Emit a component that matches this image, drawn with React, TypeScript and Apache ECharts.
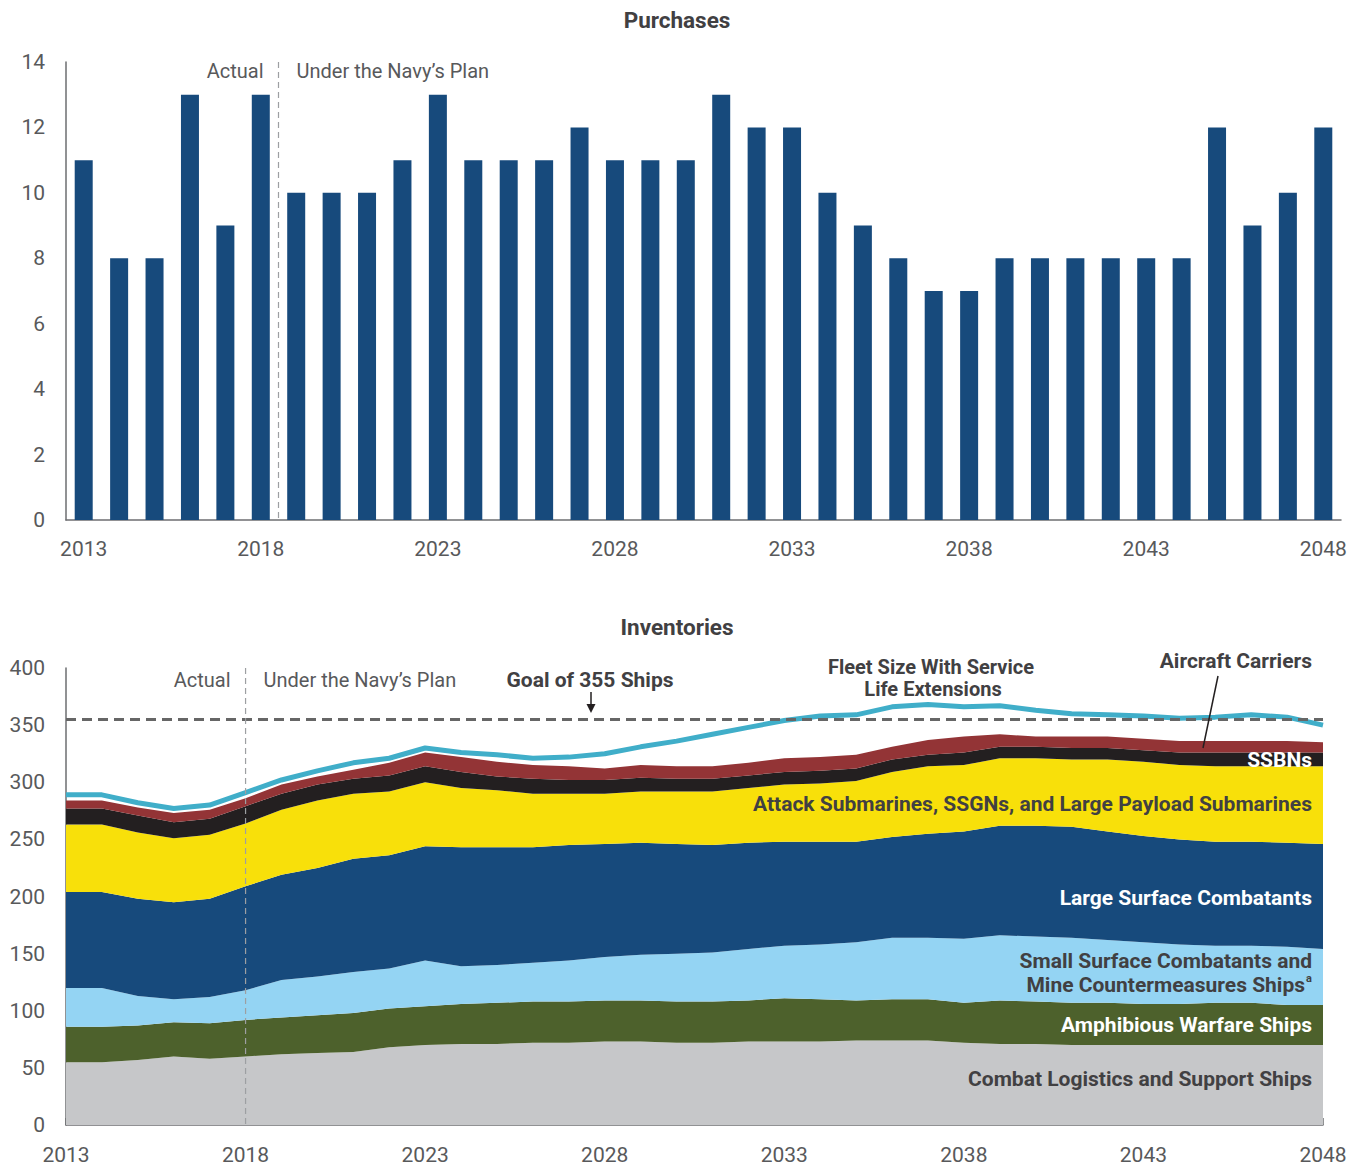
import React, { useEffect, useRef } from "react";
import * as echarts from "echarts";

// ---------- DATA ----------
const years: string[] = [
  "2013", "2014", "2015", "2016", "2017", "2018", "2019", "2020", "2021", "2022",
  "2023", "2024", "2025", "2026", "2027", "2028", "2029", "2030", "2031", "2032",
  "2033", "2034", "2035", "2036", "2037", "2038", "2039", "2040", "2041", "2042",
  "2043", "2044", "2045", "2046", "2047", "2048",
];

// Purchases (ships per year)
const purchases: number[] = [
  11, 8, 8, 13, 9, 13, 10, 10, 10, 11,
  13, 11, 11, 11, 12, 11, 11, 11, 13, 12,
  12, 10, 9, 8, 7, 7, 8, 8, 8, 8,
  8, 8, 12, 9, 10, 12,
];

// Inventories by category (stacked, bottom to top)
const combatLogistics: number[] = [
  55, 55, 57, 60, 58, 60, 62, 63, 64, 68,
  70, 71, 71, 72, 72, 73, 73, 72, 72, 73,
  73, 73, 74, 74, 74, 72, 71, 71, 70, 70,
  70, 70, 70, 70, 70, 70,
];
const amphibious: number[] = [
  31, 31, 30, 30, 31, 32, 32, 33, 34, 34,
  34, 35, 36, 36, 36, 36, 36, 36, 36, 36,
  38, 37, 35, 36, 36, 35, 38, 37, 37, 37,
  36, 36, 37, 37, 35, 35,
];
const smallSurface: number[] = [
  34, 34, 26, 20, 23, 26, 33, 34, 36, 35,
  40, 33, 33, 34, 36, 38, 40, 42, 43, 45,
  46, 48, 51, 54, 54, 56, 57, 57, 57, 55,
  54, 52, 50, 50, 51, 49,
];
const largeSurface: number[] = [
  84, 84, 85, 85, 86, 91, 92, 95, 99, 99,
  100, 104, 103, 101, 101, 99, 98, 96, 94, 93,
  91, 90, 88, 88, 91, 94, 96, 97, 97, 95,
  93, 92, 91, 91, 91, 92,
];
const attackSubs: number[] = [
  59, 59, 58, 56, 56, 55, 57, 59, 57, 56,
  56, 52, 50, 47, 45, 44, 45, 46, 47, 48,
  50, 51, 53, 57, 59, 58, 59, 59, 59, 63,
  65, 65, 66, 66, 67, 68,
];
const ssbns: number[] = [
  14, 14, 15, 14, 14, 15, 14, 14, 13, 14,
  14, 14, 12, 13, 12, 12, 12, 11, 11, 11,
  11, 11, 11, 11, 10, 11, 10, 10, 10, 10,
  10, 11, 12, 12, 12, 12,
];
const carriers: number[] = [
  7, 7, 7, 8, 8, 7, 8, 7, 8, 11,
  12, 13, 13, 12, 12, 10, 11, 11, 11, 11,
  12, 12, 12, 11, 13, 14, 11, 9, 10, 10,
  10, 10, 10, 10, 10, 9,
];
// Fleet size with service life extensions (line)
const fleetWithSLE: number[] = [
  289, 289, 282, 277, 280, 291, 302, 310, 317, 321,
  330, 326, 324, 321, 322, 325, 331, 336, 342, 348,
  354, 358, 359, 366, 368, 366, 367, 363, 360, 359,
  358, 356, 357, 359, 357, 350,
];
const goalShips = 355;

const purchaseTicks = { min: 0, max: 14, interval: 2 };
const inventoryTicks = { min: 0, max: 400, interval: 50 };

// ---------- STYLE ----------
const FONT = "Roboto, 'Noto Sans', sans-serif";
const TICK_COLOR = "#58595B";
const LABEL_DARK = "#414042";
const AXIS_COLOR = "#6D6E71";

const C = {
  navy: "#174A7C",
  grey: "#C6C7C9",
  green: "#4D612C",
  light: "#94D4F3",
  yellow: "#F8E00A",
  black: "#231F20",
  red: "#933436",
  cyan: "#40AEC9",
};

const G1 = { left: 66, top: 62, width: 1275, height: 458 };
const G2 = { left: 66, top: 668, width: 1257, height: 457 };

function txt(
  text: string,
  x: number,
  y: number,
  align: string,
  font: string,
  fill: string
) {
  return {
    type: "text",
    x,
    y,
    z: 100,
    silent: true,
    style: {
      text,
      fill,
      font,
      textAlign: align,
      textVerticalAlign: "middle",
    },
  };
}

export default function App() {
  const ref = useRef<HTMLDivElement | null>(null);

  useEffect(() => {
    if (!ref.current) return;
    const chart = echarts.init(ref.current, undefined, { renderer: "svg" });

    const band1 = G1.width / years.length;
    const splitX1 = G1.left + band1 * 6; // boundary between 2018 and 2019
    const step2 = G2.width / (years.length - 1);
    const x2018 = G2.left + step2 * 5;

    const regular = `20px ${FONT}`;
    const bold = `bold 21px ${FONT}`;
    const boldSmall = `bold 20px ${FONT}`;

    const areaSeries = (name: string, data: number[], color: string) => ({
      name,
      type: "line",
      stack: "inv",
      xAxisIndex: 1,
      yAxisIndex: 1,
      data,
      symbol: "none",
      smooth: false,
      lineStyle: { width: 0, color },
      itemStyle: { color },
      areaStyle: { color, opacity: 1 },
      z: 2,
    });

    const axisLabelBase = {
      color: TICK_COLOR,
      fontSize: 21,
      fontFamily: FONT,
    };

    chart.setOption({
      animation: false,
      backgroundColor: "#ffffff",
      grid: [
        { ...G1, containLabel: false },
        { ...G2, containLabel: false },
      ],
      xAxis: [
        {
          type: "category",
          gridIndex: 0,
          data: years,
          boundaryGap: true,
          axisLine: { lineStyle: { color: AXIS_COLOR, width: 1.5 } },
          axisTick: { show: false },
          axisLabel: { ...axisLabelBase, interval: 4, margin: 18 },
          splitLine: { show: false },
        },
        {
          type: "category",
          gridIndex: 1,
          data: years,
          boundaryGap: false,
          axisLine: { lineStyle: { color: AXIS_COLOR, width: 1.5 } },
          axisTick: {
            show: true,
            inside: true,
            interval: 4,
            length: 7,
            lineStyle: { color: AXIS_COLOR, width: 1.5 },
          },
          axisLabel: { ...axisLabelBase, interval: 4, margin: 19 },
          splitLine: { show: false },
        },
      ],
      yAxis: [
        {
          type: "value",
          gridIndex: 0,
          ...purchaseTicks,
          axisLine: { show: true, lineStyle: { color: AXIS_COLOR, width: 1.5 } },
          axisTick: { show: false },
          axisLabel: { ...axisLabelBase, margin: 21 },
          splitLine: { show: false },
        },
        {
          type: "value",
          gridIndex: 1,
          ...inventoryTicks,
          axisLine: { show: true, lineStyle: { color: AXIS_COLOR, width: 1.5 } },
          axisTick: { show: false },
          axisLabel: { ...axisLabelBase, margin: 21 },
          splitLine: { show: false },
        },
      ],
      series: [
        {
          name: "Purchases",
          type: "bar",
          xAxisIndex: 0,
          yAxisIndex: 0,
          data: purchases,
          barWidth: 18,
          itemStyle: { color: C.navy },
        },
        areaSeries("Combat Logistics and Support Ships", combatLogistics, C.grey),
        areaSeries("Amphibious Warfare Ships", amphibious, C.green),
        areaSeries("Small Surface Combatants and Mine Countermeasures Ships", smallSurface, C.light),
        areaSeries("Large Surface Combatants", largeSurface, C.navy),
        areaSeries("Attack Submarines, SSGNs, and Large Payload Submarines", attackSubs, C.yellow),
        areaSeries("SSBNs", ssbns, C.black),
        areaSeries("Aircraft Carriers", carriers, C.red),
        {
          name: "Fleet Size With Service Life Extensions",
          type: "line",
          xAxisIndex: 1,
          yAxisIndex: 1,
          data: fleetWithSLE,
          symbol: "none",
          lineStyle: { width: 5, color: C.cyan },
          itemStyle: { color: C.cyan },
          z: 4,
        },
        {
          name: "Goal of 355 Ships",
          type: "line",
          xAxisIndex: 1,
          yAxisIndex: 1,
          data: years.map(() => goalShips),
          symbol: "none",
          lineStyle: { width: 3, color: "#666666", type: [10, 6] },
          itemStyle: { color: "#666666" },
          z: 6,
        },
      ],
      graphic: [
        // titles
        txt("Purchases", 677, 20, "center", `bold 22.5px ${FONT}`, LABEL_DARK),
        txt("Inventories", 677, 627, "center", `bold 22.5px ${FONT}`, LABEL_DARK),
        // top chart divider
        {
          type: "line",
          z: 50,
          silent: true,
          shape: { x1: splitX1, y1: G1.top, x2: splitX1, y2: G1.top + G1.height },
          style: { stroke: "#9D9FA2", lineWidth: 1.2, lineDash: [6, 4] },
        },
        txt("Actual", splitX1 - 15, 71, "right", regular, TICK_COLOR),
        txt("Under the Navy\u2019s Plan", splitX1 + 18, 71, "left", regular, TICK_COLOR),
        // bottom chart divider
        {
          type: "line",
          z: 50,
          silent: true,
          shape: { x1: x2018, y1: G2.top, x2: x2018, y2: G2.top + G2.height },
          style: { stroke: "#9D9FA2", lineWidth: 1.2, lineDash: [6, 4] },
        },
        txt("Actual", x2018 - 15, 680, "right", regular, TICK_COLOR),
        txt("Under the Navy\u2019s Plan", x2018 + 18, 680, "left", regular, TICK_COLOR),
        // goal annotation
        txt("Goal of 355 Ships", 590, 680, "center", bold, LABEL_DARK),
        {
          type: "line",
          z: 100,
          silent: true,
          shape: { x1: 591, y1: 692, x2: 591, y2: 708 },
          style: { stroke: "#231F20", lineWidth: 1.5 },
        },
        {
          type: "polygon",
          z: 100,
          silent: true,
          shape: { points: [[586.5, 704], [595.5, 704], [591, 713]] },
          style: { fill: "#231F20" },
        },
        // fleet size annotation
        txt("Fleet Size With Service", 931, 667, "center", boldSmall, LABEL_DARK),
        txt("Life Extensions", 933, 689, "center", boldSmall, LABEL_DARK),
        // aircraft carriers annotation
        txt("Aircraft Carriers", 1312, 661, "right", bold, LABEL_DARK),
        {
          type: "line",
          z: 100,
          silent: true,
          shape: { x1: 1218, y1: 676, x2: 1203, y2: 748 },
          style: { stroke: "#231F20", lineWidth: 1.5 },
        },
        // series labels
        txt("SSBNs", 1312, 760, "right", bold, "#ffffff"),
        txt("Attack Submarines, SSGNs, and Large Payload Submarines", 1312, 804, "right", bold, LABEL_DARK),
        txt("Large Surface Combatants", 1312, 898, "right", bold, "#ffffff"),
        txt("Small Surface Combatants and", 1312, 961, "right", bold, LABEL_DARK),
        txt("Mine Countermeasures Ships", 1305, 985, "right", bold, LABEL_DARK),
        txt("a", 1306, 978, "left", `bold 11px ${FONT}`, LABEL_DARK),
        txt("Amphibious Warfare Ships", 1312, 1025, "right", bold, "#ffffff"),
        txt("Combat Logistics and Support Ships", 1312, 1079, "right", bold, LABEL_DARK),
      ],
    });

    return () => {
      chart.dispose();
    };
  }, []);

  return (
    <div
      ref={ref}
      style={{ position: "absolute", left: 0, top: 0, width: 1362, height: 1167 }}
    />
  );
}
